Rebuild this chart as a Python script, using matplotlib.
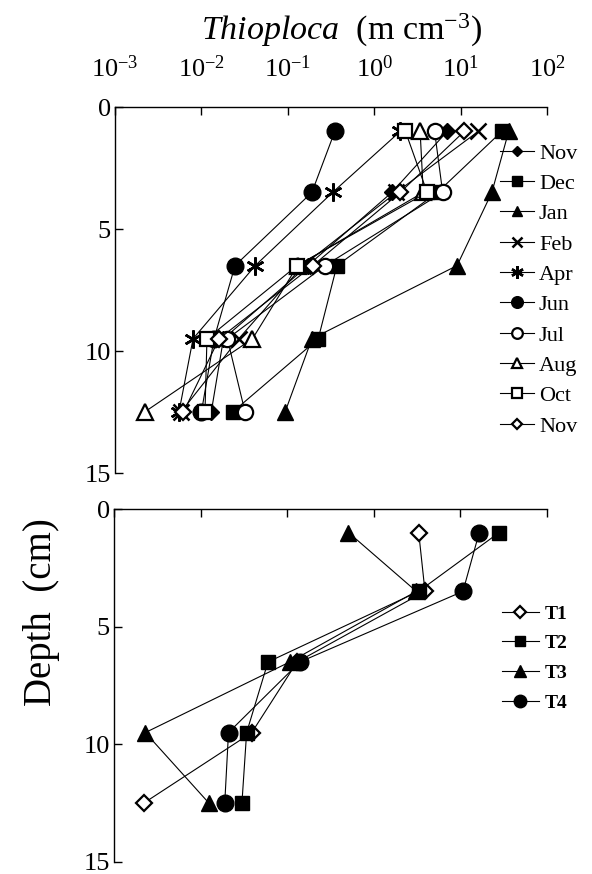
import matplotlib
matplotlib.use("Agg")
import matplotlib.pyplot as plt
from matplotlib.ticker import LogLocator, NullLocator, LogFormatterMathtext

plt.rcParams['font.family'] = ['Liberation Serif', 'DejaVu Serif']
plt.rcParams['mathtext.fontset'] = 'custom'
plt.rcParams['mathtext.rm'] = 'Liberation Serif'
plt.rcParams['mathtext.it'] = 'Liberation Serif:italic'
plt.rcParams['mathtext.bf'] = 'Liberation Serif:bold'

# ---------------- data ----------------
depths = [1, 3.5, 6.5, 9.5, 12.5]

months = ["Nov", "Dec", "Jan", "Feb", "Apr", "Jun", "Jul", "Aug", "Oct", "Nov"]
nov1 = [7.0, 1.6, 0.17, 0.018, 0.013]
dec = [30, 5.4, 0.37, 0.225, 0.023]
jan = [36, 23, 9.1, 0.19, 0.093]
feb = [16, 1.8, 0.15, 0.027, 0.0058]
apr = [2.0, 0.33, 0.042, 0.008, 0.0055]
jun = [0.35, 0.19, 0.0245, 0.014, 0.010]
jul = [5.0, 6.2, 0.27, 0.020, 0.032]
aug = [3.4, 3.7, 0.13, 0.039, 0.0022]
octo = [2.3, 4.1, 0.128, 0.0116, 0.011]
nov2 = [11, 2.0, 0.195, 0.016, 0.0062]

stations = ["T1", "T2", "T3", "T4"]
t1 = [3.3, 3.9, 0.13, 0.039, 0.0022]
t2 = [28, 3.3, 0.060, 0.034, 0.030]
t3 = [0.51, 3.1, 0.107, 0.0023, 0.0125]
t4 = [16.5, 10.7, 0.14, 0.021, 0.019]

depth_ticks = [0, 5, 10, 15]

# ---------------- figure ----------------
W, H = 592, 874
fig = plt.figure(figsize=(W / 100, H / 100), dpi=100)

def frac(x0, y0, x1, y1):
    return [x0 / W, 1 - y1 / H, (x1 - x0) / W, (y1 - y0) / H]

ax1 = fig.add_axes(frac(115, 107, 547, 473))
ax2 = fig.add_axes(frac(114, 509, 547, 862))

open_kw = dict(mfc='white', mec='black', mew=1.6)
fill_kw = dict(mfc='black', mec='black', mew=1.0)

styles = [
    dict(marker='D', ms=8, **fill_kw),
    dict(marker='s', ms=9.5, **fill_kw),
    dict(marker='^', ms=11, **fill_kw),
    dict(marker='x', ms=11, mec='black', mew=1.8),
    dict(marker=(6, 2, 0), ms=13, mec='black', mew=1.8),
    dict(marker='o', ms=12, **fill_kw),
    dict(marker='o', ms=11, **open_kw),
    dict(marker='^', ms=11, **open_kw),
    dict(marker='s', ms=9.5, **open_kw),
    dict(marker='D', ms=8, **open_kw),
]
series = [nov1, dec, jan, feb, apr, jun, jul, aug, octo, nov2]

for vals, lab, st in zip(series, months, styles):
    ax1.plot(vals, depths, color='black', lw=0.8, label=lab, **st)

styles2 = [
    dict(marker='D', ms=8, **open_kw),
    dict(marker='s', ms=9.5, **fill_kw),
    dict(marker='^', ms=11, **fill_kw),
    dict(marker='o', ms=12, **fill_kw),
]
for vals, lab, st in zip([t1, t2, t3, t4], stations, styles2):
    ax2.plot(vals, depths, color='black', lw=0.8, label=lab, **st)

for ax in (ax1, ax2):
    ax.set_xscale('log')
    ax.set_xlim(1e-3, 1e2)
    ax.set_ylim(15, 0)
    ax.set_yticks(depth_ticks)
    ax.xaxis.set_major_locator(LogLocator(base=10, numticks=10))
    ax.xaxis.set_minor_locator(NullLocator())
    ax.xaxis.tick_top()
    ax.spines['right'].set_visible(False)
    ax.spines['bottom'].set_visible(False)
    for s in ('left', 'top'):
        ax.spines[s].set_linewidth(1.0)
    ax.tick_params(axis='both', which='major', direction='in', length=6,
                   width=1.0, labelsize=19)
    ax.tick_params(axis='y', pad=3)

ax1.xaxis.set_major_formatter(LogFormatterMathtext())
ax1.tick_params(axis='x', labeltop=True, pad=18)
ax2.tick_params(axis='x', labeltop=False, labelbottom=False)

fig.text(341 / W, 1 - 30 / H, r"$\it{Thioploca}$  (m cm$^{-3}$)",
         ha='center', va='center', fontsize=24.5)
fig.text(42 / W, 1 - 612 / H, "Depth  (cm)", rotation=90,
         ha='center', va='center', fontsize=28)

leg1 = ax1.legend(loc='upper left', bbox_to_anchor=(500 / W, 1 - 143 / H),
                  bbox_transform=fig.transFigure, frameon=False,
                  fontsize=16, markerscale=0.7, handlelength=1.55,
                  handletextpad=0.2, labelspacing=0.44, borderaxespad=0,
                  borderpad=0)

leg2 = ax2.legend(loc='upper left', bbox_to_anchor=(502 / W, 1 - 605 / H),
                  bbox_transform=fig.transFigure, frameon=False,
                  prop={'size': 14, 'weight': 'bold'}, markerscale=0.75,
                  handlelength=1.9, handletextpad=0.3, labelspacing=0.62,
                  borderaxespad=0, borderpad=0)

fig.savefig("out.png", dpi=100)
